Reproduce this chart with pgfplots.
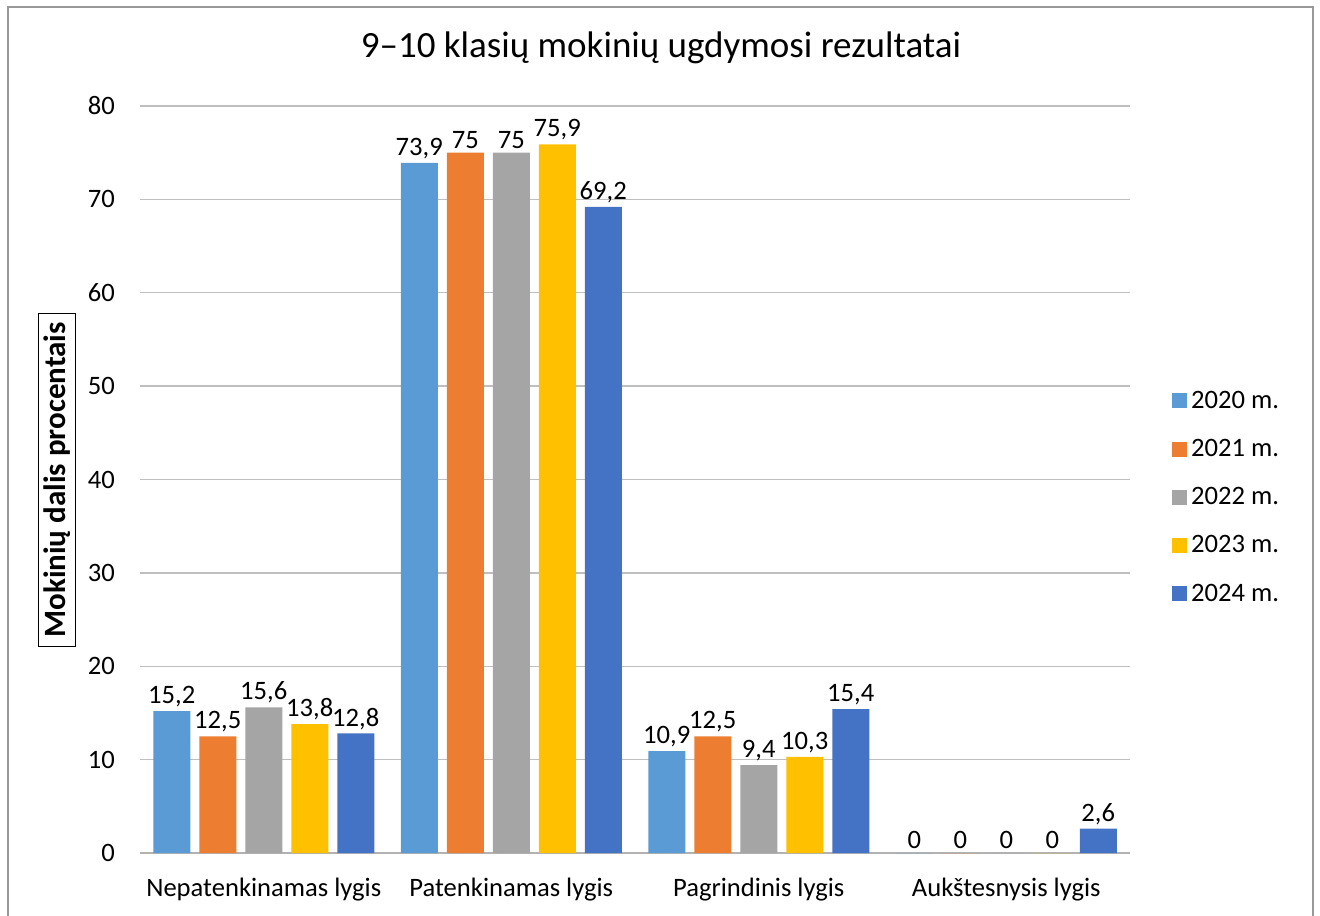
\documentclass[border=0pt]{standalone}
\usepackage{fontspec}
\setmainfont{Carlito}
\usepackage{pgfplots}
\pgfplotsset{compat=1.18}
\definecolor{c20}{HTML}{5B9BD5}
\definecolor{c21}{HTML}{ED7D31}
\definecolor{c22}{HTML}{A5A5A5}
\definecolor{c23}{HTML}{FFC000}
\definecolor{c24}{HTML}{4472C4}
\newcommand\tfont{\fontsize{13.3}{16}\selectfont}
\pgfplotsset{
  sq/.style={legend image code/.code={\fill[##1] (0pt,-3.75pt) rectangle (7.5pt,3.75pt);}},
}
\begin{document}
\begin{tikzpicture}
\useasboundingbox (0,0) rectangle (660pt,-457.5pt);
\draw[black!40, line width=0.8pt] (4pt,-460pt) -- (4pt,-3.5pt) -- (656.5pt,-3.5pt) -- (656.5pt,-460pt);
\begin{axis}[
  at={(70pt,-426.5pt)}, anchor=south west,
  scale only axis, width=495pt, height=373.5pt,
  ybar=4.5pt, bar width=18.5pt,
  xmin=-0.5, xmax=3.5, ymin=0, ymax=80,
  xtick={0,1,2,3},
  xticklabels={Nepatenkinamas lygis, Patenkinamas lygis, Pagrindinis lygis, Aukštesnysis lygis},
  ytick={0,10,...,80},
  axis lines*=left,
  y axis line style={draw=none},
  x axis line style={black!30, line width=0.8pt},
  major tick length=0pt,
  ymajorgrids, grid style={black!25, line width=0.7pt},
  tick label style={font=\tfont},
  /pgf/number format/assume math mode=true,
  /pgf/number format/use comma,
  yticklabel style={xshift=-9pt},
  xticklabel style={yshift=-9pt},
  nodes near coords,
  every node near coord/.append style={font=\tfont, yshift=-1.5pt, /pgf/number format/assume math mode=true, /pgf/number format/use comma},
  legend style={draw=none, fill=none, at={(1.036,0.63)}, anchor=north west, font=\tfont, row sep=10pt, cells={anchor=west}},
]
\addplot[fill=c20, draw=none, sq] coordinates {(0,15.2) (1,73.9) (2,10.9) (3,0)};
\addplot[fill=c21, draw=none, sq] coordinates {(0,12.5) (1,75) (2,12.5) (3,0)};
\addplot[fill=c22, draw=none, sq] coordinates {(0,15.6) (1,75) (2,9.4) (3,0)};
\addplot[fill=c23, draw=none, sq] coordinates {(0,13.8) (1,75.9) (2,10.3) (3,0)};
\addplot[fill=c24, draw=none, sq] coordinates {(0,12.8) (1,69.2) (2,15.4) (3,2.6)};
\legend{2020 m.,2021 m.,2022 m.,2023 m.,2024 m.}
\end{axis}
\node[font=\fontsize{18.5}{22}\selectfont] at (330.5pt,-24pt) {9–10 klasių mokinių ugdymosi rezultatai};
\node[draw=black, line width=0.8pt, rotate=90, inner xsep=4.5pt, inner ysep=2.5pt, font=\fontsize{15.5}{18}\selectfont\bfseries] at (28.5pt,-240pt) {Mokinių dalis procentais};
\end{tikzpicture}
\end{document}
